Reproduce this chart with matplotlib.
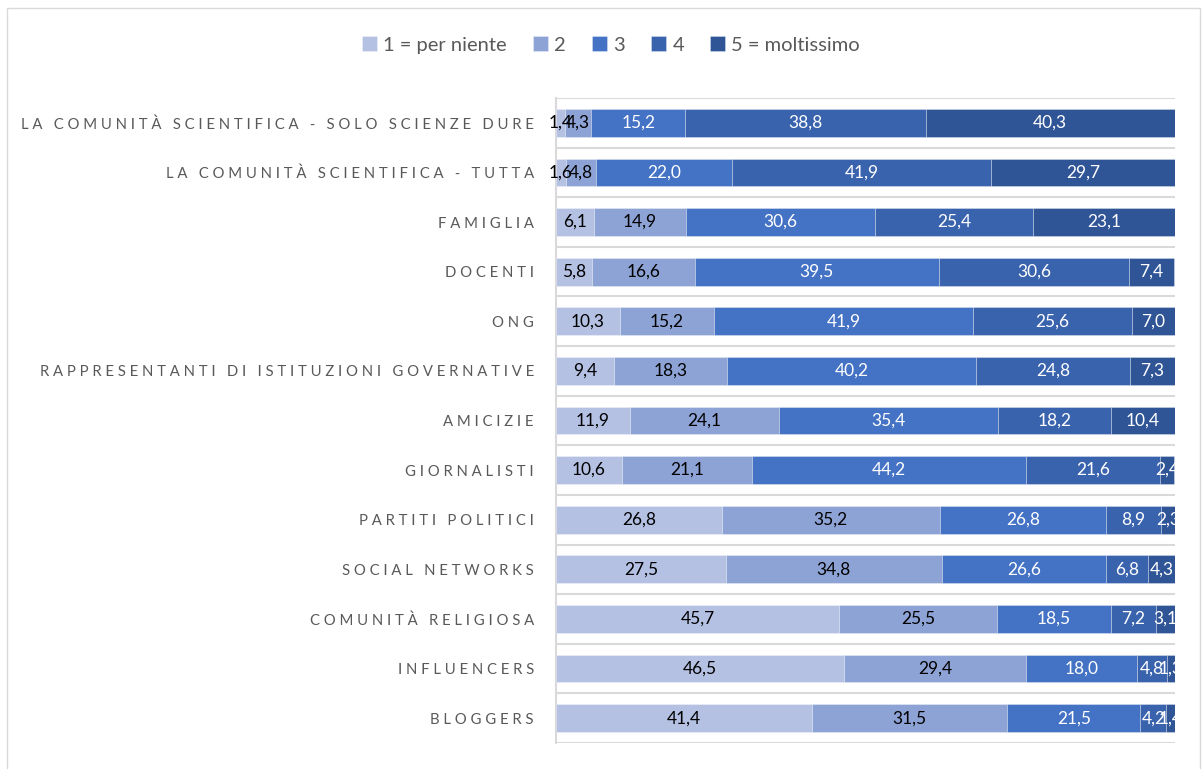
import matplotlib
matplotlib.use("Agg")
import matplotlib.pyplot as plt
from matplotlib.patches import Rectangle
from matplotlib.transforms import Bbox, TransformedBbox
import numpy as np

categories = [
    "LA COMUNITÀ SCIENTIFICA - SOLO SCIENZE DURE",
    "LA COMUNITÀ SCIENTIFICA - TUTTA",
    "FAMIGLIA",
    "DOCENTI",
    "ONG",
    "RAPPRESENTANTI DI ISTITUZIONI GOVERNATIVE",
    "AMICIZIE",
    "GIORNALISTI",
    "PARTITI POLITICI",
    "SOCIAL NETWORKS",
    "COMUNITÀ RELIGIOSA",
    "INFLUENCERS",
    "BLOGGERS",
]
series_names = ["1 = per niente", "2", "3", "4", "5 = moltissimo"]
s1 = [1.4, 1.6, 6.1, 5.8, 10.3, 9.4, 11.9, 10.6, 26.8, 27.5, 45.7, 46.5, 41.4]
s2 = [4.3, 4.8, 14.9, 16.6, 15.2, 18.3, 24.1, 21.1, 35.2, 34.8, 25.5, 29.4, 31.5]
s3 = [15.2, 22.0, 30.6, 39.5, 41.9, 40.2, 35.4, 44.2, 26.8, 26.6, 18.5, 18.0, 21.5]
s4 = [38.8, 41.9, 25.4, 30.6, 25.6, 24.8, 18.2, 21.6, 8.9, 6.8, 7.2, 4.8, 4.2]
s5 = [40.3, 29.7, 23.1, 7.4, 7.0, 7.3, 10.4, 2.4, 2.3, 4.3, 3.1, 1.3, 1.4]

colors = ["#B4C1E3", "#8EA3D5", "#4472C4", "#3A63AE", "#2F5597"]
label_colors = ["#000000", "#000000", "#FFFFFF", "#FFFFFF", "#FFFFFF"]

plt.rcParams['font.family'] = ['Lato', 'DejaVu Sans']

W, H = 1203, 769
fig = plt.figure(figsize=(W / 100, H / 100), dpi=100)
ax_left, ax_right = 556 / W, 1175 / W
ax_bottom, ax_top = 1 - 743 / H, 1 - 98 / H
ax = fig.add_axes([ax_left, ax_bottom, ax_right - ax_left, ax_top - ax_bottom])

# chart border
fig.patches.append(Rectangle((7 / W, -0.05), (1200 - 7) / W, 1.05 - 8 / H,
                             transform=fig.transFigure, fill=False,
                             edgecolor="#D9D9D9", linewidth=1.0))

y = np.arange(len(categories))
data = [s1, s2, s3, s4, s5]
left = np.zeros(len(categories))
clip = TransformedBbox(Bbox([[0, 0], [ax_right, 1]]), fig.transFigure)
for vals, c, lc, name in zip(data, colors, label_colors, series_names):
    vals = np.array(vals)
    ax.barh(y, vals, left=left, height=0.56, color=c, label=name,
            edgecolor=(1, 1, 1, 0.35), linewidth=0.6, zorder=3)
    for yi, (l, v) in enumerate(zip(left, vals)):
        t = ax.text(l + v / 2, yi, f"{v:.1f}".replace(".", ","), ha="center",
                    va="center", color=lc, fontsize=12.5, zorder=4)
        t.set_clip_box(clip)
        t.set_clip_on(True)
    left = left + vals

ax.set_xlim(0, 100)
ax.set_ylim(len(categories) - 0.5, -0.5)
ax.set_xticks([])
ax.set_yticks(y)
spaced = ["\u2009\u2009".join(list(c)) for c in categories]
ax.set_yticklabels(spaced, fontsize=10.7, color="#595959")
ax.tick_params(axis="y", length=0, pad=16)
ax.set_yticks(np.arange(-0.5, len(categories), 1), minor=True)
ax.tick_params(axis="y", which="minor", length=0)
ax.grid(axis="y", which="minor", color="#D9D9D9", linewidth=1.5, zorder=0)
for s in ["top", "right", "bottom"]:
    ax.spines[s].set_visible(False)
ax.spines["left"].set_color("#D9D9D9")
ax.spines["left"].set_linewidth(1.5)
ax.set_facecolor("none")

fig.legend(loc="center", bbox_to_anchor=(0.508, 1 - 45 / H), ncol=5,
           frameon=False, handlelength=0.75, handleheight=0.75,
           handletextpad=0.3, columnspacing=1.3,
           prop={"size": 14.5}, labelcolor="#595959")

fig.savefig("out.png", dpi=100)
